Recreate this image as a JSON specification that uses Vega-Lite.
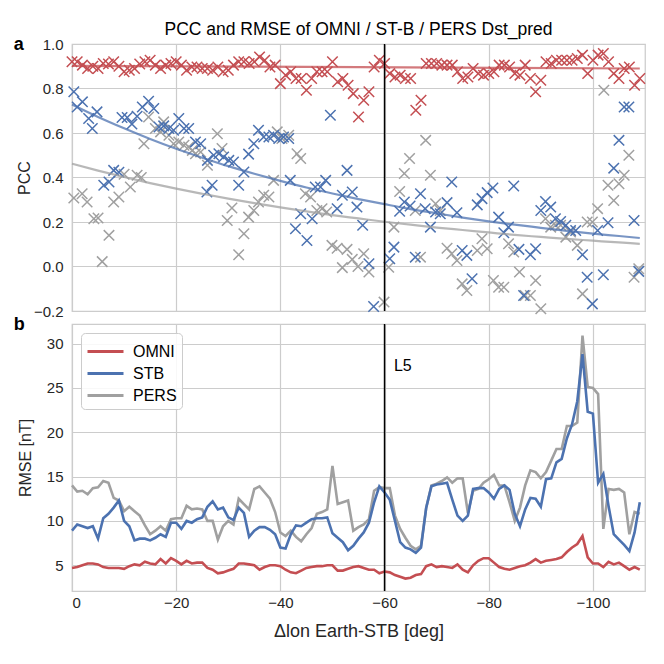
{
  "$schema": "https://vega.github.io/schema/vega-lite/v6.json",
  "background": "white",
  "padding": {"left": 13, "top": 20, "right": 10, "bottom": 10},
  "bounds": "flush",
  "spacing": 13,
  "resolve": {"scale": {"color": "independent"}, "legend": {"color": "independent"}},
  "title": {"text": "PCC and RMSE of OMNI / ST-B / PERS Dst_pred", "fontSize": 17.5, "fontWeight": "normal", "color": "#000000", "anchor": "middle", "frame": "group", "offset": -3},
  "datasets": {
    "pcc": [
      {"m":"PERS","x":-0.35,"v":0.308},{"m":"PERS","x":-1.95,"v":0.327},{"m":"PERS","x":-2.9,"v":0.29},{"m":"PERS","x":-4.2,"v":0.215},{"m":"PERS","x":-5.0,"v":0.218},{"m":"PERS","x":-5.8,"v":0.022},{"m":"PERS","x":-7.1,"v":0.14},{"m":"PERS","x":-8.0,"v":0.29},{"m":"PERS","x":-9.0,"v":0.312},{"m":"PERS","x":-10.0,"v":0.415},{"m":"PERS","x":-11.2,"v":0.357},{"m":"PERS","x":-12.5,"v":0.41},{"m":"PERS","x":-13.3,"v":0.40},{"m":"PERS","x":-13.8,"v":0.552},{"m":"PERS","x":-14.7,"v":0.672},{"m":"PERS","x":-16.0,"v":0.62},{"m":"PERS","x":-17.0,"v":0.605},{"m":"PERS","x":-17.6,"v":0.65},{"m":"PERS","x":-18.6,"v":0.59},{"m":"PERS","x":-19.5,"v":0.552},{"m":"PERS","x":-20.5,"v":0.56},{"m":"PERS","x":-21.5,"v":0.545},{"m":"PERS","x":-22.4,"v":0.537},{"m":"PERS","x":-23.1,"v":0.522},{"m":"PERS","x":-23.7,"v":0.507},{"m":"PERS","x":-24.7,"v":0.515},{"m":"PERS","x":-26.0,"v":0.455},{"m":"PERS","x":-27.9,"v":0.597},{"m":"PERS","x":-28.8,"v":0.53},{"m":"PERS","x":-29.8,"v":0.207},{"m":"PERS","x":-30.7,"v":0.263},{"m":"PERS","x":-32.0,"v":0.053},{"m":"PERS","x":-33.0,"v":0.147},{"m":"PERS","x":-33.9,"v":0.222},{"m":"PERS","x":-34.9,"v":0.252},{"m":"PERS","x":-35.8,"v":0.29},{"m":"PERS","x":-36.8,"v":0.32},{"m":"PERS","x":-37.8,"v":0.312},{"m":"PERS","x":-38.7,"v":0.387},{"m":"PERS","x":-39.4,"v":0.605},{"m":"PERS","x":-40.3,"v":0.575},{"m":"PERS","x":-41.6,"v":0.59},{"m":"PERS","x":-43.2,"v":0.507},{"m":"PERS","x":-43.9,"v":0.485},{"m":"PERS","x":-44.8,"v":0.327},{"m":"PERS","x":-45.8,"v":0.312},{"m":"PERS","x":-47.0,"v":0.252},{"m":"PERS","x":-48.0,"v":0.26},{"m":"PERS","x":-48.9,"v":0.245},{"m":"PERS","x":-49.9,"v":0.095},{"m":"PERS","x":-50.9,"v":0.082},{"m":"PERS","x":-51.9,"v":-0.005},{"m":"PERS","x":-52.8,"v":0.077},{"m":"PERS","x":-53.8,"v":0.032},{"m":"PERS","x":-54.9,"v":0.0},{"m":"PERS","x":-56.0,"v":0.057},{"m":"PERS","x":-57.0,"v":-0.025},{"m":"PERS","x":-59.9,"v":-0.16},{"m":"PERS","x":-60.8,"v":-0.003},{"m":"PERS","x":-61.8,"v":0.177},{"m":"PERS","x":-62.9,"v":0.337},{"m":"PERS","x":-63.8,"v":0.418},{"m":"PERS","x":-64.8,"v":0.485},{"m":"PERS","x":-65.9,"v":0.252},{"m":"PERS","x":-66.9,"v":0.042},{"m":"PERS","x":-67.9,"v":0.567},{"m":"PERS","x":-68.8,"v":0.41},{"m":"PERS","x":-69.8,"v":0.282},{"m":"PERS","x":-70.7,"v":0.252},{"m":"PERS","x":-72.0,"v":0.082},{"m":"PERS","x":-72.9,"v":0.057},{"m":"PERS","x":-73.9,"v":0.027},{"m":"PERS","x":-74.9,"v":-0.078},{"m":"PERS","x":-75.8,"v":-0.108},{"m":"PERS","x":-77.8,"v":0.072},{"m":"PERS","x":-78.7,"v":0.125},{"m":"PERS","x":-79.7,"v":0.08},{"m":"PERS","x":-80.9,"v":-0.063},{"m":"PERS","x":-81.9,"v":-0.093},{"m":"PERS","x":-82.9,"v":-0.093},{"m":"PERS","x":-83.8,"v":0.102},{"m":"PERS","x":-84.8,"v":0.065},{"m":"PERS","x":-85.9,"v":-0.025},{"m":"PERS","x":-87.0,"v":-0.13},{"m":"PERS","x":-88.0,"v":-0.13},{"m":"PERS","x":-89.0,"v":-0.063},{"m":"PERS","x":-90.0,"v":-0.19},{"m":"PERS","x":-90.9,"v":0.215},{"m":"PERS","x":-91.9,"v":0.177},{"m":"PERS","x":-92.8,"v":0.185},{"m":"PERS","x":-93.8,"v":0.185},{"m":"PERS","x":-94.8,"v":0.132},{"m":"PERS","x":-95.7,"v":0.155},{"m":"PERS","x":-97.0,"v":0.095},{"m":"PERS","x":-98.0,"v":-0.123},{"m":"PERS","x":-98.9,"v":0.2},{"m":"PERS","x":-99.9,"v":0.2},{"m":"PERS","x":-100.9,"v":0.26},{"m":"PERS","x":-102.1,"v":0.792},{"m":"PERS","x":-102.9,"v":0.365},{"m":"PERS","x":-104.0,"v":0.297},{"m":"PERS","x":-105.0,"v":0.372},{"m":"PERS","x":-106.0,"v":0.41},{"m":"PERS","x":-106.9,"v":0.5},{"m":"PERS","x":-107.9,"v":-0.048},{"m":"PERS","x":-108.8,"v":-0.01},
      {"m":"STB","x":-0.35,"v":0.785},{"m":"STB","x":-1.0,"v":0.717},{"m":"STB","x":-2.0,"v":0.74},{"m":"STB","x":-3.2,"v":0.665},{"m":"STB","x":-3.9,"v":0.62},{"m":"STB","x":-4.8,"v":0.695},{"m":"STB","x":-6.1,"v":0.365},{"m":"STB","x":-7.1,"v":0.38},{"m":"STB","x":-8.0,"v":0.432},{"m":"STB","x":-9.0,"v":0.424},{"m":"STB","x":-9.6,"v":0.67},{"m":"STB","x":-10.6,"v":0.67},{"m":"STB","x":-11.5,"v":0.64},{"m":"STB","x":-12.5,"v":0.675},{"m":"STB","x":-13.5,"v":0.717},{"m":"STB","x":-14.7,"v":0.743},{"m":"STB","x":-15.7,"v":0.71},{"m":"STB","x":-16.7,"v":0.627},{"m":"STB","x":-17.6,"v":0.632},{"m":"STB","x":-18.6,"v":0.62},{"m":"STB","x":-19.5,"v":0.612},{"m":"STB","x":-20.5,"v":0.665},{"m":"STB","x":-21.5,"v":0.62},{"m":"STB","x":-22.4,"v":0.62},{"m":"STB","x":-23.7,"v":0.56},{"m":"STB","x":-24.7,"v":0.552},{"m":"STB","x":-25.9,"v":0.335},{"m":"STB","x":-26.0,"v":0.477},{"m":"STB","x":-26.9,"v":0.365},{"m":"STB","x":-27.2,"v":0.5},{"m":"STB","x":-28.2,"v":0.507},{"m":"STB","x":-29.1,"v":0.492},{"m":"STB","x":-30.1,"v":0.477},{"m":"STB","x":-31.0,"v":0.47},{"m":"STB","x":-32.0,"v":0.365},{"m":"STB","x":-33.0,"v":0.425},{"m":"STB","x":-33.9,"v":0.505},{"m":"STB","x":-34.9,"v":0.552},{"m":"STB","x":-35.8,"v":0.612},{"m":"STB","x":-36.8,"v":0.582},{"m":"STB","x":-37.8,"v":0.582},{"m":"STB","x":-38.7,"v":0.59},{"m":"STB","x":-39.7,"v":0.575},{"m":"STB","x":-40.6,"v":0.582},{"m":"STB","x":-41.6,"v":0.575},{"m":"STB","x":-41.9,"v":0.387},{"m":"STB","x":-42.9,"v":0.17},{"m":"STB","x":-43.9,"v":0.237},{"m":"STB","x":-45.1,"v":0.117},{"m":"STB","x":-46.1,"v":0.215},{"m":"STB","x":-46.7,"v":0.357},{"m":"STB","x":-47.7,"v":0.357},{"m":"STB","x":-48.7,"v":0.387},{"m":"STB","x":-49.6,"v":0.68},{"m":"STB","x":-50.9,"v":0.26},{"m":"STB","x":-51.9,"v":0.32},{"m":"STB","x":-52.8,"v":0.432},{"m":"STB","x":-53.8,"v":0.335},{"m":"STB","x":-54.7,"v":0.267},{"m":"STB","x":-55.8,"v":0.185},{"m":"STB","x":-57.0,"v":0.012},{"m":"STB","x":-57.9,"v":-0.18},{"m":"STB","x":-61.0,"v":0.035},{"m":"STB","x":-61.8,"v":0.087},{"m":"STB","x":-62.9,"v":0.248},{"m":"STB","x":-63.8,"v":0.29},{"m":"STB","x":-64.9,"v":0.272},{"m":"STB","x":-65.9,"v":0.042},{"m":"STB","x":-66.9,"v":0.327},{"m":"STB","x":-67.8,"v":0.26},{"m":"STB","x":-68.8,"v":0.177},{"m":"STB","x":-69.8,"v":0.245},{"m":"STB","x":-70.7,"v":0.237},{"m":"STB","x":-72.0,"v":0.287},{"m":"STB","x":-72.9,"v":0.38},{"m":"STB","x":-73.9,"v":0.242},{"m":"STB","x":-74.9,"v":0.072},{"m":"STB","x":-75.8,"v":0.05},{"m":"STB","x":-76.8,"v":-0.055},{"m":"STB","x":-77.8,"v":0.277},{"m":"STB","x":-78.7,"v":0.305},{"m":"STB","x":-79.7,"v":0.332},{"m":"STB","x":-80.8,"v":0.353},{"m":"STB","x":-81.9,"v":0.222},{"m":"STB","x":-82.9,"v":0.152},{"m":"STB","x":-83.8,"v":0.177},{"m":"STB","x":-84.8,"v":0.362},{"m":"STB","x":-85.8,"v":0.077},{"m":"STB","x":-86.7,"v":-0.13},{"m":"STB","x":-88.0,"v":0.053},{"m":"STB","x":-89.0,"v":0.08},{"m":"STB","x":-90.0,"v":0.252},{"m":"STB","x":-90.9,"v":0.292},{"m":"STB","x":-91.9,"v":0.267},{"m":"STB","x":-92.8,"v":0.215},{"m":"STB","x":-93.8,"v":0.202},{"m":"STB","x":-94.8,"v":0.185},{"m":"STB","x":-95.7,"v":0.162},{"m":"STB","x":-96.7,"v":0.162},{"m":"STB","x":-98.0,"v":0.053},{"m":"STB","x":-98.9,"v":-0.048},{"m":"STB","x":-99.9,"v":-0.168},{"m":"STB","x":-100.9,"v":0.162},{"m":"STB","x":-102.0,"v":-0.037},{"m":"STB","x":-102.9,"v":0.197},{"m":"STB","x":-104.0,"v":0.442},{"m":"STB","x":-105.0,"v":0.567},{"m":"STB","x":-106.0,"v":0.717},{"m":"STB","x":-106.9,"v":0.717},{"m":"STB","x":-107.9,"v":0.207},{"m":"STB","x":-108.8,"v":-0.022},
      {"m":"OMNI","x":0,"v":0.92},{"m":"OMNI","x":-1,"v":0.92},{"m":"OMNI","x":-2,"v":0.905},{"m":"OMNI","x":-3,"v":0.89},{"m":"OMNI","x":-4,"v":0.9},{"m":"OMNI","x":-5,"v":0.89},{"m":"OMNI","x":-6,"v":0.912},{"m":"OMNI","x":-7,"v":0.91},{"m":"OMNI","x":-8,"v":0.92},{"m":"OMNI","x":-9,"v":0.9},{"m":"OMNI","x":-10,"v":0.875},{"m":"OMNI","x":-11,"v":0.882},{"m":"OMNI","x":-12,"v":0.89},{"m":"OMNI","x":-13,"v":0.91},{"m":"OMNI","x":-14,"v":0.92},{"m":"OMNI","x":-15,"v":0.927},{"m":"OMNI","x":-16,"v":0.905},{"m":"OMNI","x":-17,"v":0.89},{"m":"OMNI","x":-18,"v":0.905},{"m":"OMNI","x":-19,"v":0.912},{"m":"OMNI","x":-20,"v":0.92},{"m":"OMNI","x":-21,"v":0.905},{"m":"OMNI","x":-22,"v":0.882},{"m":"OMNI","x":-23,"v":0.897},{"m":"OMNI","x":-24,"v":0.897},{"m":"OMNI","x":-25,"v":0.89},{"m":"OMNI","x":-26,"v":0.89},{"m":"OMNI","x":-27,"v":0.882},{"m":"OMNI","x":-28,"v":0.897},{"m":"OMNI","x":-29,"v":0.875},{"m":"OMNI","x":-30,"v":0.882},{"m":"OMNI","x":-31,"v":0.905},{"m":"OMNI","x":-32,"v":0.92},{"m":"OMNI","x":-33,"v":0.92},{"m":"OMNI","x":-34,"v":0.912},{"m":"OMNI","x":-35,"v":0.92},{"m":"OMNI","x":-36,"v":0.942},{"m":"OMNI","x":-37,"v":0.927},{"m":"OMNI","x":-38,"v":0.897},{"m":"OMNI","x":-39,"v":0.905},{"m":"OMNI","x":-40,"v":0.822},{"m":"OMNI","x":-41,"v":0.86},{"m":"OMNI","x":-42,"v":0.875},{"m":"OMNI","x":-43,"v":0.845},{"m":"OMNI","x":-44,"v":0.845},{"m":"OMNI","x":-45,"v":0.792},{"m":"OMNI","x":-46,"v":0.845},{"m":"OMNI","x":-47,"v":0.875},{"m":"OMNI","x":-48,"v":0.875},{"m":"OMNI","x":-49,"v":0.875},{"m":"OMNI","x":-50,"v":0.92},{"m":"OMNI","x":-51,"v":0.83},{"m":"OMNI","x":-52,"v":0.845},{"m":"OMNI","x":-53,"v":0.815},{"m":"OMNI","x":-54,"v":0.777},{"m":"OMNI","x":-55,"v":0.672},{"m":"OMNI","x":-56,"v":0.747},{"m":"OMNI","x":-57,"v":0.785},{"m":"OMNI","x":-58,"v":0.897},{"m":"OMNI","x":-59,"v":0.927},{"m":"OMNI","x":-60,"v":0.912},{"m":"OMNI","x":-61,"v":0.867},{"m":"OMNI","x":-62,"v":0.852},{"m":"OMNI","x":-63,"v":0.86},{"m":"OMNI","x":-64,"v":0.845},{"m":"OMNI","x":-65,"v":0.845},{"m":"OMNI","x":-66,"v":0.702},{"m":"OMNI","x":-67,"v":0.747},{"m":"OMNI","x":-68,"v":0.912},{"m":"OMNI","x":-69,"v":0.912},{"m":"OMNI","x":-70,"v":0.912},{"m":"OMNI","x":-71,"v":0.905},{"m":"OMNI","x":-72,"v":0.905},{"m":"OMNI","x":-73,"v":0.905},{"m":"OMNI","x":-74,"v":0.875},{"m":"OMNI","x":-75,"v":0.845},{"m":"OMNI","x":-76,"v":0.852},{"m":"OMNI","x":-77,"v":0.89},{"m":"OMNI","x":-78,"v":0.867},{"m":"OMNI","x":-79,"v":0.86},{"m":"OMNI","x":-80,"v":0.867},{"m":"OMNI","x":-81,"v":0.875},{"m":"OMNI","x":-82,"v":0.905},{"m":"OMNI","x":-83,"v":0.905},{"m":"OMNI","x":-84,"v":0.897},{"m":"OMNI","x":-85,"v":0.867},{"m":"OMNI","x":-86,"v":0.86},{"m":"OMNI","x":-87,"v":0.905},{"m":"OMNI","x":-88,"v":0.845},{"m":"OMNI","x":-89,"v":0.785},{"m":"OMNI","x":-90,"v":0.837},{"m":"OMNI","x":-91,"v":0.92},{"m":"OMNI","x":-92,"v":0.912},{"m":"OMNI","x":-93,"v":0.927},{"m":"OMNI","x":-94,"v":0.927},{"m":"OMNI","x":-95,"v":0.927},{"m":"OMNI","x":-96,"v":0.927},{"m":"OMNI","x":-97,"v":0.935},{"m":"OMNI","x":-98,"v":0.95},{"m":"OMNI","x":-99,"v":0.867},{"m":"OMNI","x":-100,"v":0.927},{"m":"OMNI","x":-101,"v":0.95},{"m":"OMNI","x":-102,"v":0.957},{"m":"OMNI","x":-103,"v":0.92},{"m":"OMNI","x":-104,"v":0.867},{"m":"OMNI","x":-105,"v":0.845},{"m":"OMNI","x":-106,"v":0.89},{"m":"OMNI","x":-107,"v":0.897},{"m":"OMNI","x":-108,"v":0.815},{"m":"OMNI","x":-109,"v":0.845}
    ],
    "fit": [
      {"m":"OMNI","x":0,"v":0.902},{"m":"OMNI","x":-55,"v":0.896},{"m":"OMNI","x":-109,"v":0.89},
      {"m":"STB","x":0,"v":0.728},{"m":"STB","x":-5,"v":0.672},{"m":"STB","x":-10,"v":0.621},{"m":"STB","x":-15,"v":0.573},{"m":"STB","x":-20,"v":0.529},{"m":"STB","x":-25,"v":0.489},{"m":"STB","x":-30,"v":0.451},{"m":"STB","x":-35,"v":0.417},{"m":"STB","x":-40,"v":0.385},{"m":"STB","x":-45,"v":0.355},{"m":"STB","x":-50,"v":0.328},{"m":"STB","x":-55,"v":0.303},{"m":"STB","x":-60,"v":0.28},{"m":"STB","x":-65,"v":0.258},{"m":"STB","x":-70,"v":0.239},{"m":"STB","x":-75,"v":0.22},{"m":"STB","x":-80,"v":0.203},{"m":"STB","x":-85,"v":0.188},{"m":"STB","x":-90,"v":0.174},{"m":"STB","x":-95,"v":0.16},{"m":"STB","x":-100,"v":0.148},{"m":"STB","x":-105,"v":0.137},{"m":"STB","x":-109,"v":0.128},
      {"m":"PERS","x":0,"v":0.462},{"m":"PERS","x":-5,"v":0.431},{"m":"PERS","x":-10,"v":0.402},{"m":"PERS","x":-15,"v":0.375},{"m":"PERS","x":-20,"v":0.35},{"m":"PERS","x":-25,"v":0.327},{"m":"PERS","x":-30,"v":0.305},{"m":"PERS","x":-35,"v":0.285},{"m":"PERS","x":-40,"v":0.266},{"m":"PERS","x":-45,"v":0.248},{"m":"PERS","x":-50,"v":0.231},{"m":"PERS","x":-55,"v":0.216},{"m":"PERS","x":-60,"v":0.201},{"m":"PERS","x":-65,"v":0.188},{"m":"PERS","x":-70,"v":0.175},{"m":"PERS","x":-75,"v":0.164},{"m":"PERS","x":-80,"v":0.153},{"m":"PERS","x":-85,"v":0.142},{"m":"PERS","x":-90,"v":0.133},{"m":"PERS","x":-95,"v":0.124},{"m":"PERS","x":-100,"v":0.116},{"m":"PERS","x":-105,"v":0.108},{"m":"PERS","x":-109,"v":0.102}
    ],
    "rmse": [
      {"m":"OMNI","x":0,"v":4.7},{"m":"OMNI","x":-1,"v":4.8},{"m":"OMNI","x":-2,"v":5.0},{"m":"OMNI","x":-3,"v":5.2},{"m":"OMNI","x":-4,"v":5.2},{"m":"OMNI","x":-5,"v":5.1},{"m":"OMNI","x":-6,"v":4.8},{"m":"OMNI","x":-7,"v":4.7},{"m":"OMNI","x":-8,"v":4.7},{"m":"OMNI","x":-9,"v":4.7},{"m":"OMNI","x":-10,"v":4.6},{"m":"OMNI","x":-11,"v":4.9},{"m":"OMNI","x":-12,"v":5.1},{"m":"OMNI","x":-13,"v":5.0},{"m":"OMNI","x":-14,"v":5.4},{"m":"OMNI","x":-15,"v":5.2},{"m":"OMNI","x":-16,"v":5.1},{"m":"OMNI","x":-17,"v":5.7},{"m":"OMNI","x":-18,"v":5.2},{"m":"OMNI","x":-19,"v":5.8},{"m":"OMNI","x":-20,"v":5.5},{"m":"OMNI","x":-21,"v":5.1},{"m":"OMNI","x":-22,"v":5.5},{"m":"OMNI","x":-23,"v":5.2},{"m":"OMNI","x":-24,"v":5.3},{"m":"OMNI","x":-25,"v":5.3},{"m":"OMNI","x":-26,"v":4.7},{"m":"OMNI","x":-27,"v":4.5},{"m":"OMNI","x":-28,"v":4.1},{"m":"OMNI","x":-29,"v":4.2},{"m":"OMNI","x":-30,"v":4.4},{"m":"OMNI","x":-31,"v":4.6},{"m":"OMNI","x":-32,"v":5.2},{"m":"OMNI","x":-33,"v":5.2},{"m":"OMNI","x":-34,"v":5.1},{"m":"OMNI","x":-35,"v":5.0},{"m":"OMNI","x":-36,"v":4.5},{"m":"OMNI","x":-37,"v":4.8},{"m":"OMNI","x":-38,"v":5.0},{"m":"OMNI","x":-39,"v":5.0},{"m":"OMNI","x":-40,"v":4.9},{"m":"OMNI","x":-41,"v":4.5},{"m":"OMNI","x":-42,"v":4.2},{"m":"OMNI","x":-43,"v":4.1},{"m":"OMNI","x":-44,"v":4.4},{"m":"OMNI","x":-45,"v":4.7},{"m":"OMNI","x":-46,"v":4.8},{"m":"OMNI","x":-47,"v":4.9},{"m":"OMNI","x":-48,"v":4.9},{"m":"OMNI","x":-49,"v":5.0},{"m":"OMNI","x":-50,"v":5.0},{"m":"OMNI","x":-51,"v":4.4},{"m":"OMNI","x":-52,"v":4.4},{"m":"OMNI","x":-53,"v":4.6},{"m":"OMNI","x":-54,"v":4.8},{"m":"OMNI","x":-55,"v":4.9},{"m":"OMNI","x":-56,"v":4.7},{"m":"OMNI","x":-57,"v":4.5},{"m":"OMNI","x":-58,"v":4.5},{"m":"OMNI","x":-59,"v":4.1},{"m":"OMNI","x":-60,"v":4.3},{"m":"OMNI","x":-61,"v":4.2},{"m":"OMNI","x":-62,"v":3.9},{"m":"OMNI","x":-63,"v":3.7},{"m":"OMNI","x":-64,"v":3.5},{"m":"OMNI","x":-65,"v":3.6},{"m":"OMNI","x":-66,"v":3.9},{"m":"OMNI","x":-67,"v":4.0},{"m":"OMNI","x":-68,"v":4.9},{"m":"OMNI","x":-69,"v":5.1},{"m":"OMNI","x":-70,"v":4.8},{"m":"OMNI","x":-71,"v":4.9},{"m":"OMNI","x":-72,"v":4.8},{"m":"OMNI","x":-73,"v":4.7},{"m":"OMNI","x":-74,"v":5.1},{"m":"OMNI","x":-75,"v":4.5},{"m":"OMNI","x":-76,"v":4.2},{"m":"OMNI","x":-77,"v":5.0},{"m":"OMNI","x":-78,"v":5.5},{"m":"OMNI","x":-79,"v":5.8},{"m":"OMNI","x":-80,"v":5.8},{"m":"OMNI","x":-81,"v":5.3},{"m":"OMNI","x":-82,"v":4.8},{"m":"OMNI","x":-83,"v":4.6},{"m":"OMNI","x":-84,"v":4.5},{"m":"OMNI","x":-85,"v":4.7},{"m":"OMNI","x":-86,"v":4.9},{"m":"OMNI","x":-87,"v":5.0},{"m":"OMNI","x":-88,"v":5.3},{"m":"OMNI","x":-89,"v":5.7},{"m":"OMNI","x":-90,"v":5.3},{"m":"OMNI","x":-91,"v":5.5},{"m":"OMNI","x":-92,"v":5.6},{"m":"OMNI","x":-93,"v":5.7},{"m":"OMNI","x":-94,"v":5.9},{"m":"OMNI","x":-95,"v":6.5},{"m":"OMNI","x":-96,"v":7.0},{"m":"OMNI","x":-97,"v":7.4},{"m":"OMNI","x":-98,"v":8.3},{"m":"OMNI","x":-99,"v":5.9},{"m":"OMNI","x":-100,"v":5.2},{"m":"OMNI","x":-101,"v":5.2},{"m":"OMNI","x":-102,"v":4.8},{"m":"OMNI","x":-103,"v":5.4},{"m":"OMNI","x":-104,"v":5.1},{"m":"OMNI","x":-105,"v":5.3},{"m":"OMNI","x":-106,"v":4.9},{"m":"OMNI","x":-107,"v":4.5},{"m":"OMNI","x":-108,"v":4.8},{"m":"OMNI","x":-109,"v":4.5},
      {"m":"STB","x":0,"v":8.9},{"m":"STB","x":-1,"v":9.6},{"m":"STB","x":-2,"v":9.4},{"m":"STB","x":-3,"v":9.2},{"m":"STB","x":-4,"v":9.4},{"m":"STB","x":-5,"v":8.0},{"m":"STB","x":-6,"v":10.3},{"m":"STB","x":-7,"v":10.8},{"m":"STB","x":-8,"v":11.5},{"m":"STB","x":-9,"v":12.3},{"m":"STB","x":-10,"v":10.0},{"m":"STB","x":-11,"v":9.4},{"m":"STB","x":-12,"v":7.8},{"m":"STB","x":-13,"v":8.0},{"m":"STB","x":-14,"v":8.0},{"m":"STB","x":-15,"v":7.8},{"m":"STB","x":-16,"v":8.1},{"m":"STB","x":-17,"v":8.5},{"m":"STB","x":-18,"v":8.2},{"m":"STB","x":-19,"v":9.8},{"m":"STB","x":-20,"v":9.8},{"m":"STB","x":-21,"v":9.1},{"m":"STB","x":-22,"v":10.0},{"m":"STB","x":-23,"v":9.8},{"m":"STB","x":-24,"v":10.2},{"m":"STB","x":-25,"v":10.4},{"m":"STB","x":-26,"v":11.6},{"m":"STB","x":-27,"v":12.2},{"m":"STB","x":-28,"v":11.3},{"m":"STB","x":-29,"v":11.5},{"m":"STB","x":-30,"v":10.4},{"m":"STB","x":-31,"v":10.1},{"m":"STB","x":-32,"v":11.5},{"m":"STB","x":-33,"v":10.9},{"m":"STB","x":-34,"v":8.2},{"m":"STB","x":-35,"v":8.9},{"m":"STB","x":-36,"v":9.3},{"m":"STB","x":-37,"v":9.3},{"m":"STB","x":-38,"v":9.0},{"m":"STB","x":-39,"v":8.5},{"m":"STB","x":-40,"v":7.0},{"m":"STB","x":-41,"v":6.9},{"m":"STB","x":-42,"v":8.5},{"m":"STB","x":-43,"v":9.5},{"m":"STB","x":-44,"v":9.4},{"m":"STB","x":-45,"v":9.8},{"m":"STB","x":-46,"v":10.2},{"m":"STB","x":-47,"v":10.3},{"m":"STB","x":-48,"v":10.3},{"m":"STB","x":-49,"v":10.4},{"m":"STB","x":-50,"v":8.6},{"m":"STB","x":-51,"v":8.1},{"m":"STB","x":-52,"v":7.6},{"m":"STB","x":-53,"v":6.7},{"m":"STB","x":-54,"v":7.2},{"m":"STB","x":-55,"v":8.0},{"m":"STB","x":-56,"v":8.7},{"m":"STB","x":-57,"v":9.8},{"m":"STB","x":-58,"v":12.1},{"m":"STB","x":-59,"v":13.9},{"m":"STB","x":-60,"v":13.2},{"m":"STB","x":-61,"v":12.4},{"m":"STB","x":-62,"v":10.0},{"m":"STB","x":-63,"v":7.6},{"m":"STB","x":-64,"v":7.0},{"m":"STB","x":-65,"v":6.8},{"m":"STB","x":-66,"v":6.4},{"m":"STB","x":-67,"v":7.0},{"m":"STB","x":-68,"v":11.5},{"m":"STB","x":-69,"v":13.9},{"m":"STB","x":-70,"v":14.1},{"m":"STB","x":-71,"v":14.2},{"m":"STB","x":-72,"v":14.3},{"m":"STB","x":-73,"v":12.4},{"m":"STB","x":-74,"v":10.6},{"m":"STB","x":-75,"v":10.0},{"m":"STB","x":-76,"v":10.6},{"m":"STB","x":-77,"v":13.6},{"m":"STB","x":-78,"v":13.7},{"m":"STB","x":-79,"v":13.7},{"m":"STB","x":-80,"v":13.2},{"m":"STB","x":-81,"v":12.5},{"m":"STB","x":-82,"v":13.6},{"m":"STB","x":-83,"v":14.0},{"m":"STB","x":-84,"v":13.5},{"m":"STB","x":-85,"v":10.8},{"m":"STB","x":-86,"v":9.4},{"m":"STB","x":-87,"v":11.3},{"m":"STB","x":-88,"v":12.6},{"m":"STB","x":-89,"v":12.5},{"m":"STB","x":-90,"v":11.6},{"m":"STB","x":-91,"v":14.7},{"m":"STB","x":-92,"v":14.8},{"m":"STB","x":-93,"v":16.6},{"m":"STB","x":-94,"v":17.0},{"m":"STB","x":-95,"v":19.3},{"m":"STB","x":-96,"v":20.9},{"m":"STB","x":-97,"v":23.5},{"m":"STB","x":-98,"v":28.8},{"m":"STB","x":-99,"v":22.3},{"m":"STB","x":-100,"v":22.1},{"m":"STB","x":-101,"v":14.3},{"m":"STB","x":-102,"v":15.3},{"m":"STB","x":-103,"v":11.7},{"m":"STB","x":-104,"v":8.5},{"m":"STB","x":-105,"v":7.9},{"m":"STB","x":-106,"v":7.3},{"m":"STB","x":-107,"v":6.6},{"m":"STB","x":-108,"v":8.7},{"m":"STB","x":-109,"v":12.1},
      {"m":"PERS","x":0,"v":14.0},{"m":"PERS","x":-1,"v":13.3},{"m":"PERS","x":-2,"v":13.4},{"m":"PERS","x":-3,"v":13.0},{"m":"PERS","x":-4,"v":13.7},{"m":"PERS","x":-5,"v":13.8},{"m":"PERS","x":-6,"v":14.5},{"m":"PERS","x":-7,"v":14.3},{"m":"PERS","x":-8,"v":12.6},{"m":"PERS","x":-9,"v":12.3},{"m":"PERS","x":-10,"v":11.1},{"m":"PERS","x":-11,"v":11.6},{"m":"PERS","x":-12,"v":11.1},{"m":"PERS","x":-13,"v":10.6},{"m":"PERS","x":-14,"v":9.5},{"m":"PERS","x":-15,"v":8.5},{"m":"PERS","x":-16,"v":8.9},{"m":"PERS","x":-17,"v":9.4},{"m":"PERS","x":-18,"v":8.9},{"m":"PERS","x":-19,"v":10.2},{"m":"PERS","x":-20,"v":10.3},{"m":"PERS","x":-21,"v":10.3},{"m":"PERS","x":-22,"v":11.7},{"m":"PERS","x":-23,"v":11.3},{"m":"PERS","x":-24,"v":11.4},{"m":"PERS","x":-25,"v":11.3},{"m":"PERS","x":-26,"v":10.0},{"m":"PERS","x":-27,"v":10.0},{"m":"PERS","x":-28,"v":7.9},{"m":"PERS","x":-29,"v":9.4},{"m":"PERS","x":-30,"v":10.0},{"m":"PERS","x":-31,"v":9.6},{"m":"PERS","x":-32,"v":12.5},{"m":"PERS","x":-33,"v":11.9},{"m":"PERS","x":-34,"v":11.3},{"m":"PERS","x":-35,"v":13.6},{"m":"PERS","x":-36,"v":13.9},{"m":"PERS","x":-37,"v":13.2},{"m":"PERS","x":-38,"v":12.5},{"m":"PERS","x":-39,"v":11.0},{"m":"PERS","x":-40,"v":8.7},{"m":"PERS","x":-41,"v":8.3},{"m":"PERS","x":-42,"v":8.9},{"m":"PERS","x":-43,"v":8.2},{"m":"PERS","x":-44,"v":7.7},{"m":"PERS","x":-45,"v":8.5},{"m":"PERS","x":-46,"v":9.2},{"m":"PERS","x":-47,"v":10.8},{"m":"PERS","x":-48,"v":11.0},{"m":"PERS","x":-49,"v":11.3},{"m":"PERS","x":-50,"v":16.2},{"m":"PERS","x":-51,"v":11.9},{"m":"PERS","x":-52,"v":12.1},{"m":"PERS","x":-53,"v":12.3},{"m":"PERS","x":-54,"v":8.9},{"m":"PERS","x":-55,"v":9.3},{"m":"PERS","x":-56,"v":9.6},{"m":"PERS","x":-57,"v":10.2},{"m":"PERS","x":-58,"v":13.4},{"m":"PERS","x":-59,"v":13.8},{"m":"PERS","x":-60,"v":13.7},{"m":"PERS","x":-61,"v":13.7},{"m":"PERS","x":-62,"v":10.6},{"m":"PERS","x":-63,"v":9.1},{"m":"PERS","x":-64,"v":8.1},{"m":"PERS","x":-65,"v":7.2},{"m":"PERS","x":-66,"v":6.8},{"m":"PERS","x":-67,"v":7.2},{"m":"PERS","x":-68,"v":11.5},{"m":"PERS","x":-69,"v":14.0},{"m":"PERS","x":-70,"v":14.2},{"m":"PERS","x":-71,"v":14.5},{"m":"PERS","x":-72,"v":14.9},{"m":"PERS","x":-73,"v":14.3},{"m":"PERS","x":-74,"v":14.8},{"m":"PERS","x":-75,"v":14.8},{"m":"PERS","x":-76,"v":10.9},{"m":"PERS","x":-77,"v":13.4},{"m":"PERS","x":-78,"v":13.6},{"m":"PERS","x":-79,"v":14.3},{"m":"PERS","x":-80,"v":14.7},{"m":"PERS","x":-81,"v":15.2},{"m":"PERS","x":-82,"v":14.0},{"m":"PERS","x":-83,"v":14.0},{"m":"PERS","x":-84,"v":12.1},{"m":"PERS","x":-85,"v":10.0},{"m":"PERS","x":-86,"v":11.5},{"m":"PERS","x":-87,"v":14.0},{"m":"PERS","x":-88,"v":15.7},{"m":"PERS","x":-89,"v":15.5},{"m":"PERS","x":-90,"v":14.8},{"m":"PERS","x":-91,"v":15.5},{"m":"PERS","x":-92,"v":16.8},{"m":"PERS","x":-93,"v":18.1},{"m":"PERS","x":-94,"v":18.1},{"m":"PERS","x":-95,"v":20.7},{"m":"PERS","x":-96,"v":20.7},{"m":"PERS","x":-97,"v":21.1},{"m":"PERS","x":-98,"v":30.9},{"m":"PERS","x":-99,"v":25.1},{"m":"PERS","x":-100,"v":25.0},{"m":"PERS","x":-101,"v":24.3},{"m":"PERS","x":-102,"v":9.1},{"m":"PERS","x":-103,"v":13.6},{"m":"PERS","x":-104,"v":13.5},{"m":"PERS","x":-105,"v":13.6},{"m":"PERS","x":-106,"v":13.2},{"m":"PERS","x":-107,"v":8.5},{"m":"PERS","x":-108,"v":11.0},{"m":"PERS","x":-109,"v":10.8}
    ]
  },
  "vconcat": [
    {
      "width": 573,
      "height": 267,
      "layer": [
        {
          "data": {"name": "pcc"},
          "mark": {"type": "point", "shape": "M-1,-1L1,1M-1,1L1,-1", "filled": false, "strokeWidth": 1.5, "size": 110, "opacity": 1},
          "encoding": {
            "x": {"field": "x", "type": "quantitative", "scale": {"domain": [0, -110], "nice": false, "zero": false}, "axis": {"values": [0, -20, -40, -60, -80, -100], "labels": false, "title": null}},
            "y": {"field": "v", "type": "quantitative", "scale": {"domain": [-0.2, 1.0], "nice": false, "zero": false}, "axis": {"values": [-0.2, 0, 0.2, 0.4, 0.6, 0.8, 1.0], "format": ".1f", "title": "PCC", "titleFontSize": 16, "titlePadding": 1}},
            "color": {"field": "m", "type": "nominal", "scale": {"domain": ["OMNI", "STB", "PERS"], "range": ["#c44e52", "#4c72b0", "#a0a0a0"]}, "legend": null}
          }
        },
        {
          "data": {"name": "fit"},
          "mark": {"type": "line", "strokeWidth": 2.2, "opacity": 0.75, "interpolate": "monotone"},
          "encoding": {
            "x": {"field": "x", "type": "quantitative"},
            "y": {"field": "v", "type": "quantitative"},
            "color": {"field": "m", "type": "nominal", "legend": null}
          }
        },
        {
          "data": {"values": [{}]},
          "mark": {"type": "rule", "color": "#000000", "strokeWidth": 1.5},
          "encoding": {"x": {"datum": -60, "type": "quantitative"}}
        },
        {
          "data": {"values": [{}]},
          "mark": {"type": "text", "align": "left", "baseline": "middle", "fontSize": 18, "fontWeight": "bold", "color": "#000000", "dy": 1},
          "encoding": {"x": {"datum": 11.2, "type": "quantitative"}, "y": {"datum": 1.0, "type": "quantitative"}, "text": {"value": "a"}}
        }
      ]
    },
    {
      "width": 573,
      "height": 267,
      "layer": [
        {
          "data": {"name": "rmse"},
          "transform": [{"filter": "datum.m === 'PERS'"}],
          "mark": {"type": "line", "strokeWidth": 2.6},
          "encoding": {
            "x": {"field": "x", "type": "quantitative", "scale": {"domain": [0, -110], "nice": false, "zero": false}, "axis": {"values": [0, -20, -40, -60, -80, -100], "title": "Δlon Earth-STB [deg]", "titleFontSize": 18, "titlePadding": 12, "labelPadding": 4}},
            "y": {"field": "v", "type": "quantitative", "scale": {"domain": [2.1, 32.2], "nice": false, "zero": false}, "axis": {"values": [5, 10, 15, 20, 25, 30], "title": "RMSE [nT]", "titleFontSize": 16, "titlePadding": 13}},
            "color": {"field": "m", "type": "nominal", "scale": {"domain": ["OMNI", "STB", "PERS"], "range": ["#c44e52", "#4c72b0", "#a0a0a0"]}, "legend": {"orient": "top-left", "title": null, "symbolType": "M-1.5,0L1.5,0", "symbolStrokeWidth": 3, "symbolSize": 576, "symbolOffset": 6, "labelFontSize": 16, "labelColor": "#000000", "labelOffset": 14, "strokeColor": "#cccccc", "fillColor": "rgba(255,255,255,0.85)", "cornerRadius": 4, "padding": 5, "offset": 9, "rowPadding": -2}}
          }
        },
        {
          "data": {"name": "rmse"},
          "transform": [{"filter": "datum.m === 'STB'"}],
          "mark": {"type": "line", "strokeWidth": 2.6},
          "encoding": {
            "x": {"field": "x", "type": "quantitative"},
            "y": {"field": "v", "type": "quantitative"},
            "color": {"field": "m", "type": "nominal"}
          }
        },
        {
          "data": {"name": "rmse"},
          "transform": [{"filter": "datum.m === 'OMNI'"}],
          "mark": {"type": "line", "strokeWidth": 2.6},
          "encoding": {
            "x": {"field": "x", "type": "quantitative"},
            "y": {"field": "v", "type": "quantitative"},
            "color": {"field": "m", "type": "nominal"}
          }
        },
        {
          "data": {"values": [{}]},
          "mark": {"type": "rule", "color": "#000000", "strokeWidth": 1.5},
          "encoding": {"x": {"datum": -60, "type": "quantitative"}}
        },
        {
          "data": {"values": [{}]},
          "mark": {"type": "text", "align": "left", "baseline": "middle", "fontSize": 16, "color": "#000000"},
          "encoding": {"x": {"datum": -61.8, "type": "quantitative"}, "y": {"datum": 27.5, "type": "quantitative"}, "text": {"value": "L5"}}
        },
        {
          "data": {"values": [{}]},
          "mark": {"type": "text", "align": "left", "baseline": "middle", "fontSize": 18, "fontWeight": "bold", "color": "#000000", "dy": 1},
          "encoding": {"x": {"datum": 11.2, "type": "quantitative"}, "y": {"datum": 32.2, "type": "quantitative"}, "text": {"value": "b"}}
        }
      ]
    }
  ],
  "config": {
    "font": "Liberation Sans",
    "view": {"stroke": "#cccccc", "strokeWidth": 1.25},
    "axis": {"domain": false, "ticks": false, "grid": true, "gridColor": "#cccccc", "gridWidth": 1.2, "labelFontSize": 15, "labelColor": "#262626", "labelPadding": 9, "titleFontWeight": "normal", "titleColor": "#262626"}
  }
}
